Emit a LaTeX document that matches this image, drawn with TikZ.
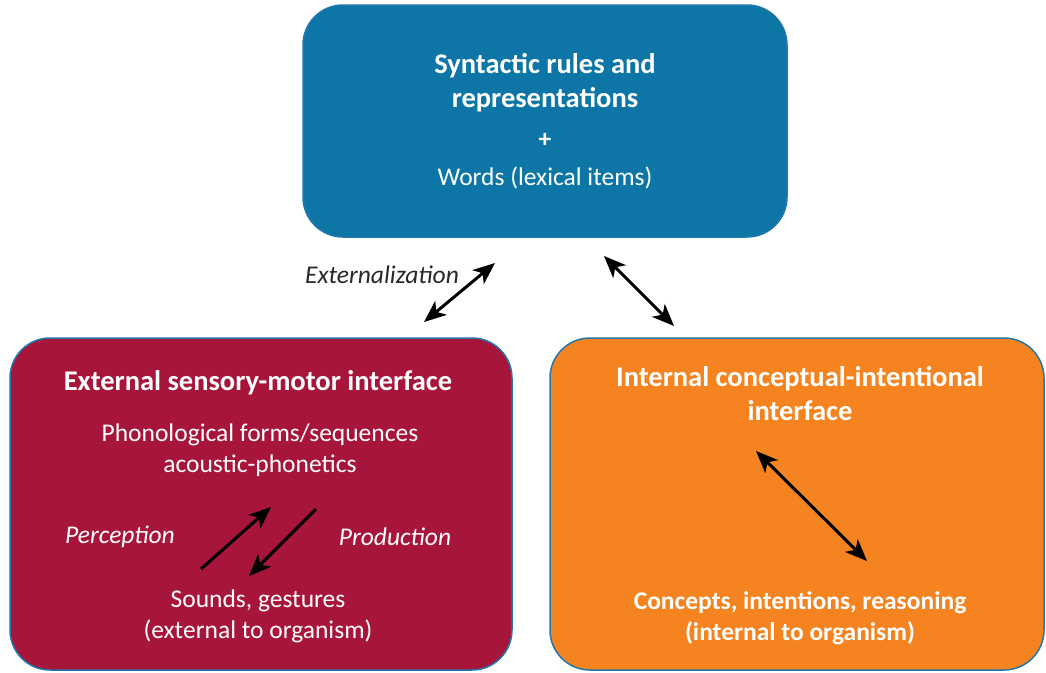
\documentclass[tikz,border=0pt]{standalone}
\usepackage{fontspec}
\setmainfont{Carlito}
\usetikzlibrary{arrows.meta}

\definecolor{syntblue}{RGB}{14,118,166}
\definecolor{smred}{RGB}{168,21,58}
\definecolor{ciorange}{RGB}{245,132,32}
\definecolor{edgeblue}{RGB}{34,120,172}
\definecolor{labelgray}{RGB}{40,40,40}

\tikzset{
	panel/.style={draw=edgeblue,line width=1.5pt,rounded corners=40pt,inner sep=0pt},
	txt/.style={text=white,align=center,font=\fontsize{25.5}{31}\selectfont},
	boldtxt/.style={txt,font=\fontsize{25.5}{31}\selectfont\bfseries},
	headtxt/.style={txt,font=\fontsize{28.5}{34}\selectfont\bfseries},
	itltxt/.style={font=\fontsize{25.5}{31}\selectfont\itshape},
	dblarrow/.style={line width=3pt,{Stealth[length=22pt,width=18pt,inset=6pt]}-{Stealth[length=22pt,width=18pt,inset=6pt]}},
	onearrow/.style={line width=3pt,-{Stealth[length=22pt,width=18pt,inset=6pt]}}
}

\begin{document}
\begin{tikzpicture}[x=1pt,y=-1pt]
	\useasboundingbox (0,0) rectangle (1046,672);
	% the three panels
	\node[panel,fill=syntblue,minimum width=484pt,minimum height=232pt] (syn) at (545,121) {};
	\node[panel,fill=smred,minimum width=502pt,minimum height=332pt] (sm) at (261,504) {};
	\node[panel,fill=ciorange,minimum width=494pt,minimum height=332pt] (ci) at (797,504) {};

	% syntax
	\node[headtxt] (syntitle) at (545,83) {Syntactic rules and\\representations};
	\node[boldtxt] (plus) at (545,140) {+};
	\node[txt] (words) at (545,178) {Words (lexical items)};

	% sensory-motor side
	\node[headtxt] (smtitle) at (258,383) {External sensory-motor interface};
	\node[txt] (phon) at (260,450) {Phonological forms/sequences\\acoustic-phonetics};
	\node[itltxt,text=white] (perc) at (120,537) {Perception};
	\node[itltxt,text=white] (prod) at (395,537) {Production};
	\node[txt] (sounds) at (258,616) {Sounds, gestures\\(external to organism)};

	% conceptual-intentional side
	\node[headtxt] (cititle) at (800,394) {Internal conceptual-intentional\\interface};
	\node[boldtxt] (concepts) at (800,618) {Concepts, intentions, reasoning\\(internal to organism)};

	\node[itltxt,text=labelgray] (ext) at (382,275) {Externalization};

	% arrow ends
	\coordinate (ext-lo) at (424,322);
	\coordinate (ext-hi) at (495,263);
	\coordinate (ci-hi) at (604,256);
	\coordinate (ci-lo) at (674,326);
	\coordinate (perc-lo) at (201,569);
	\coordinate (perc-hi) at (271,507);
	\coordinate (prod-hi) at (316,509);
	\coordinate (prod-lo) at (249,576);
	\coordinate (in-hi) at (756,451);
	\coordinate (in-lo) at (867,561);

	\draw[dblarrow] (ext-lo) -- (ext-hi);
	\draw[dblarrow] (ci-hi) -- (ci-lo);
	\draw[onearrow] (perc-lo) -- (perc-hi);
	\draw[onearrow] (prod-hi) -- (prod-lo);
	\draw[dblarrow] (in-hi) -- (in-lo);
\end{tikzpicture}
\end{document}
